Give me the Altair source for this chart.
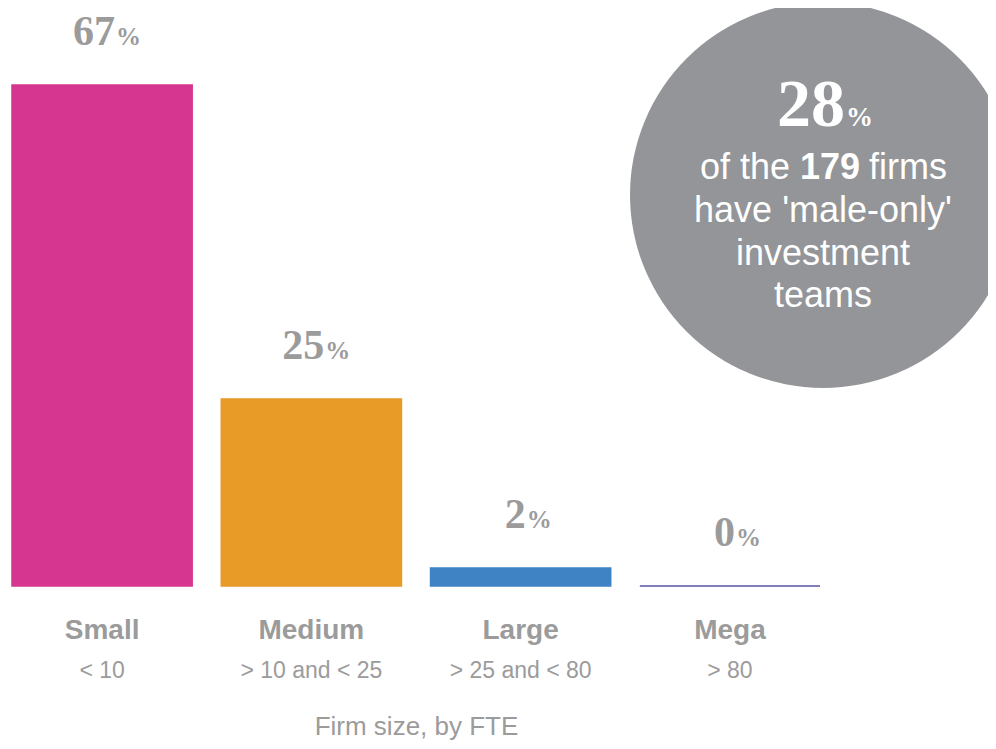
import altair as alt
import pandas as pd

# ---- data ----
categories = ["Small", "Medium", "Large", "Mega"]
size_ranges = ["< 10", "> 10 and < 25", "> 25 and < 80", "> 80"]
shares = [67, 25, 2.4, 0]
bar_colors = ["#D6368F", "#E89B27", "#3F83C5", "#5856A5"]

callout_value = ["28"]
callout_pre = ["of the"]
callout_bold = ["179"]
callout_post = ["firms"]
callout_rest = ["have 'male-only'\ninvestment\nteams"]

GREY = "#9B9B9C"
CIRCLE = "#939598"

df = pd.DataFrame({"cat": categories, "range": size_ranges, "value": shares})

x = alt.X(
    "cat:N",
    sort=categories,
    scale=alt.Scale(paddingInner=0.139, paddingOuter=0),
    axis=alt.Axis(
        title="Firm size, by FTE",
        ticks=False,
        domain=False,
        labelAngle=0,
        labelFont="Liberation Sans",
        labelFontWeight="bold",
        labelFontSize=28,
        labelColor=GREY,
        labelPadding=52,
        labelBaseline="alphabetic",
        titleFont="Liberation Sans",
        titleFontWeight="normal",
        titleFontSize=26,
        titleColor=GREY,
        titlePadding=69,
    ),
)
y = alt.Y("value:Q", scale=alt.Scale(domain=[0, 77.3], nice=False, zero=True), axis=None)
col_scale = alt.Scale(domain=categories, range=bar_colors)

base = alt.Chart(df)

bars = base.mark_bar(strokeWidth=1.5).encode(
    x=x,
    y=y,
    color=alt.Color("cat:N", scale=col_scale, legend=None),
    stroke=alt.Stroke("cat:N", scale=col_scale, legend=None),
)

lab = base.transform_calculate(num="format(datum.value, '.0f')")
two = lab.transform_filter("datum.value >= 9.5")
one = lab.transform_filter("datum.value < 9.5")


def num_text(src, dx):
    return src.mark_text(
        font="Liberation Serif", fontWeight="bold", fontSize=42, color=GREY,
        align="right", baseline="alphabetic", dx=dx, dy=-40,
    ).encode(x=x, y=y, text="num:N")


def pct_text(src, dx):
    return src.mark_text(
        font="Liberation Serif", fontWeight="bold", fontSize=25, color=GREY,
        align="left", baseline="alphabetic", dx=dx, dy=-40,
    ).encode(x=x, y=y, text=alt.value("%"))


sub = base.mark_text(
    font="Liberation Sans", fontSize=23, color=GREY, baseline="alphabetic", dy=92
).encode(x=x, y=alt.datum(0), text="range:N")

cdf = pd.DataFrame({
    "v": callout_value, "pre": callout_pre, "b": callout_bold,
    "post": callout_post, "rest": callout_rest,
})
cbase = alt.Chart(cdf)
circle = cbase.mark_circle(size=148996, color=CIRCLE, opacity=1).encode(
    x=alt.value(811), y=alt.value(187)
)
big = cbase.mark_text(
    font="Liberation Serif", fontWeight="bold", fontSize=68, color="white",
    align="right", baseline="alphabetic",
).encode(x=alt.value(833), y=alt.value(118), text="v:N")
bigpct = cbase.mark_text(
    font="Liberation Serif", fontWeight="bold", fontSize=27, color="white",
    align="left", baseline="alphabetic",
).encode(x=alt.value(834), y=alt.value(118), text=alt.value("%"))
pre = cbase.mark_text(
    font="Liberation Sans", fontSize=36, color="white", align="right", baseline="alphabetic"
).encode(x=alt.value(778), y=alt.value(171), text="pre:N")
bold = cbase.mark_text(
    font="Liberation Sans", fontSize=36, fontWeight="bold", color="white",
    align="left", baseline="alphabetic",
).encode(x=alt.value(788), y=alt.value(171), text="b:N")
post = cbase.mark_text(
    font="Liberation Sans", fontSize=36, color="white", align="left", baseline="alphabetic"
).encode(x=alt.value(857), y=alt.value(171), text="post:N")
rest = cbase.mark_text(
    font="Liberation Sans", fontSize=36, color="white", align="center",
    baseline="alphabetic", lineBreak="\n", lineHeight=42.5,
).encode(x=alt.value(811), y=alt.value(214), text="rest:N")

chart = alt.layer(
    circle, bars,
    num_text(two, 13), pct_text(two, 14),
    num_text(one, 5), pct_text(one, 6),
    sub, big, bigpct, pre, bold, post, rest,
).properties(
    width=808,
    height=578,
    padding={"left": 4, "top": 0, "right": 168, "bottom": 155},
    autosize=alt.AutoSizeParams(type="none"),
    background="white",
).configure_view(stroke=None)

chart.save("out.html", embed_options={"renderer": "svg", "actions": False})
